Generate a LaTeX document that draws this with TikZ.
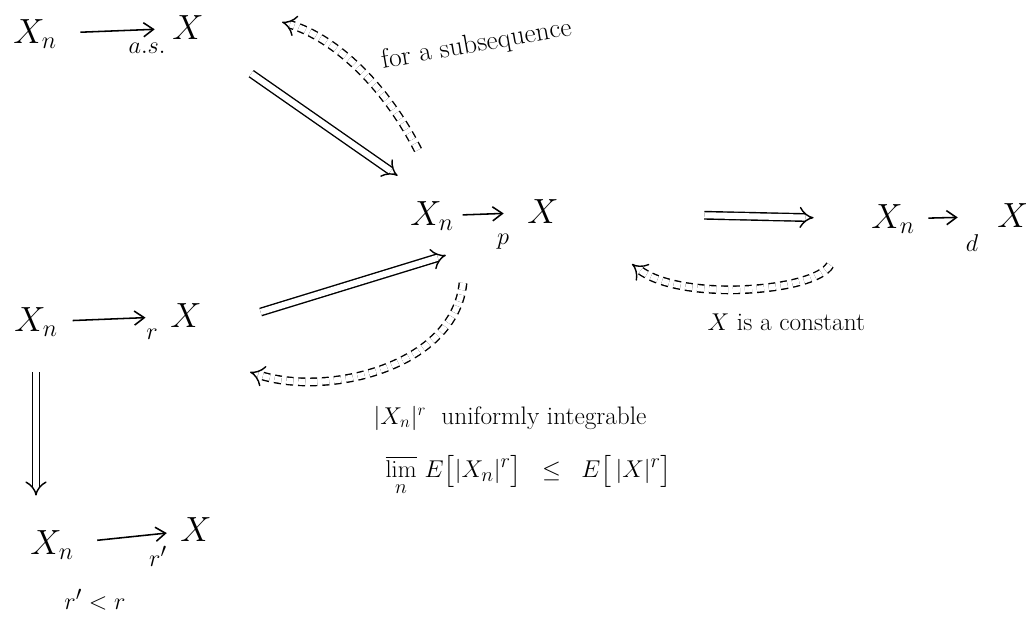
\documentclass[tikz,border=0pt]{standalone}
\usepackage{amsmath}
\usepackage{amssymb}
\usetikzlibrary{arrows.meta}

\begin{document}
\begin{tikzpicture}[x=0.025cm, y=-0.025cm,
    sym/.style={font=\fontsize{24}{28}\selectfont, inner sep=1pt},
    lab/.style={font=\fontsize{19}{22}\selectfont, inner sep=1pt},
    note/.style={font=\fontsize{18}{21}\selectfont, inner sep=1pt, anchor=west},
    conv/.style={line width=1.1pt, -{Straight Barb[length=7pt, width=10pt]}},
    impl/.style={line width=1pt, double, double distance=4.3pt, -{Implies}},
    back/.style={impl, dashed, dash pattern=on 5pt off 3.5pt}]
\useasboundingbox (0,0) rectangle (1026,619);

% almost surely
\node[sym] (asXn) at (35,34) {$X_n$};
\node[sym] (asX) at (188,28) {$X$};
\node[lab] (asl) at (147,48) {$a.s.$};
\draw[conv, shorten <=0.55cm, shorten >=0.4cm] (asXn) -- (asX);

% in probability
\node[sym] (pXn) at (432,216) {$X_n$};
\node[sym] (pX) at (543,212) {$X$};
\node[lab] (pl) at (503,242) {$p$};
\draw[conv, shorten <=0.18cm, shorten >=0.55cm] (pXn) -- (pX);

% in distribution
\node[sym] (dXn) at (893,219) {$X_n$};
\node[sym] (dX) at (1013,216) {$X$};
\node[lab] (dl) at (972,243) {$d$};
\draw[conv, shorten <=0.3cm, shorten >=0.95cm] (dXn) -- (dX);

% in r-th mean
\node[sym] (rXn) at (36,322) {$X_n$};
\node[sym] (rX) at (186,316) {$X$};
\node[lab] (rl) at (152,334) {$r$};
\draw[conv, shorten <=0.33cm, shorten >=0.58cm] (rXn) -- (rX);

\node[sym] (qXn) at (52,545) {$X_n$};
\node[sym] (qX) at (196,530) {$X$};
\node[lab] (ql) at (158,556) {$r'$};
\node[lab] (qc) at (95,600) {$r'<r$};
\draw[conv, shorten <=0.55cm, shorten >=0.3cm] (qXn) -- (qX);

% implications
\draw[impl, shorten <=1.4cm, shorten >=1.05cm] (asX.south east) -- (pXn.north);
\draw[impl, shorten <=1.5cm, shorten >=0.25cm] (rX.south east) -- ([yshift=-0.5cm]pXn.south east);
\draw[impl, shorten <=3.6cm, shorten >=1.4cm] (pX.east) -- (dXn.west);
\draw[impl, shorten <=0.85cm, shorten >=0.83cm] (rXn.south) -- (rXn.south |- qXn.north);

% converses
\coordinate (subA) at (418,150);
\coordinate (subB) at (282,22);
\draw[back] (subA) .. controls (385,85) and (335,38) .. (subB);
\node[note, font=\fontsize{19.5}{22}\selectfont, rotate=10] (sub) at (380,62) {for a subsequence};

\coordinate (uiA) at (463,283);
\coordinate (uiB) at (250,372);
\draw[back] (uiA) .. controls (455,365) and (330,398) .. (uiB);
\node[note] (ui) at (372,418) {$|X_n|^r$ \ uniformly integrable};
\node[note, font=\fontsize{19}{22}\selectfont] (lim) at (384,476) {$\displaystyle\varlimsup_{n}\, E\bigl[|X_n|^r\bigr] \;\;\le\;\; E\bigl[\,|X|^r\bigr]$};

\coordinate (cA) at (830,265);
\coordinate (cB) at (632,264);
\draw[back] (cA) .. controls (815,292) and (680,302) .. (cB);
\node[note] (cst) at (706,322) {$X$ is a constant};
\end{tikzpicture}
\end{document}
